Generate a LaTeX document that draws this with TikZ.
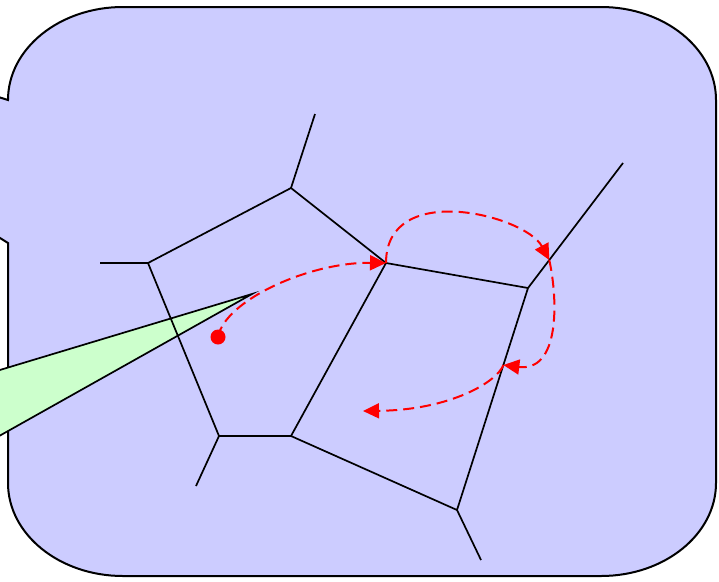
\documentclass[tikz,border=0pt]{standalone}
\usepackage{xcolor}
\usepackage{tikz}
\usetikzlibrary{arrows.meta,calc}
\definecolor{lav}{HTML}{CCCCFF}
\definecolor{mint}{HTML}{CCFFCC}

\begin{document}
\begin{tikzpicture}[x=1pt,y=-1pt,>={Triangle[length=16pt,width=15pt]},
  cell/.style={line width=1.7pt},
  hop/.style={->,red,line width=2pt,dash pattern=on 11pt off 6pt}]
\useasboundingbox (0,0) rectangle (719,581);
\clip (0,0) rectangle (719,581);
% magnified region
\filldraw[fill=lav,line width=2pt] (8,100)
  arc[start angle=180,end angle=270,x radius=115,y radius=93] -- (601,7)
  arc[start angle=270,end angle=360,x radius=115,y radius=93] -- (716,483)
  arc[start angle=0,end angle=90,x radius=115,y radius=93] -- (123,576)
  arc[start angle=90,end angle=180,x radius=115,y radius=93] -- (8,243)
  -- (-40,213) -- (-40,85) -- cycle;
% lens cone
\coordinate (apex) at (252,294);
\filldraw[fill=mint,line width=1.7pt] (apex) -- (-40,382) -- (-40,458) -- cycle;
% cell vertices
\coordinate (a) at (148,263);
\coordinate (b) at (291,188);
\coordinate (c) at (386,263);
\coordinate (d) at (291,436);
\coordinate (e) at (219,436);
\coordinate (f) at (528,288);
\coordinate (g) at (457,510);
\coordinate (a0) at (100,263);
\coordinate (b0) at (315,114);
\coordinate (e0) at (196,486);
\coordinate (f0) at (623,163);
\coordinate (g0) at (481,560);
% cell edges
\draw[cell] (a) -- (b) -- (c) -- (d) -- (e) -- cycle;
\draw[cell] (a) -- (a0);
\draw[cell] (b) -- (b0);
\draw[cell] (e) -- (e0);
\draw[cell] (c) -- (f) -- (g) -- (d);
\draw[cell] (f) -- (f0);
\draw[cell] (g) -- (g0);
% walk
\coordinate (start) at (218,337);
\coordinate (p1) at ($(f)!0.224!(f0)$);
\coordinate (p2) at ($(f)!0.347!(g)$);
\coordinate (stop) at (363,411);
\fill[red] (start) circle[radius=7.5];
\draw[hop] (start) .. controls (225,300) and (310,262) .. (c);
\draw[hop] (c) .. controls (386,180) and (525,215) .. (p1);
\draw[hop] (p1) .. controls (558,300) and (560,372) .. (p2);
\draw[hop] (p2) .. controls (497,382) and (450,410) .. (stop);
\end{tikzpicture}
\end{document}
